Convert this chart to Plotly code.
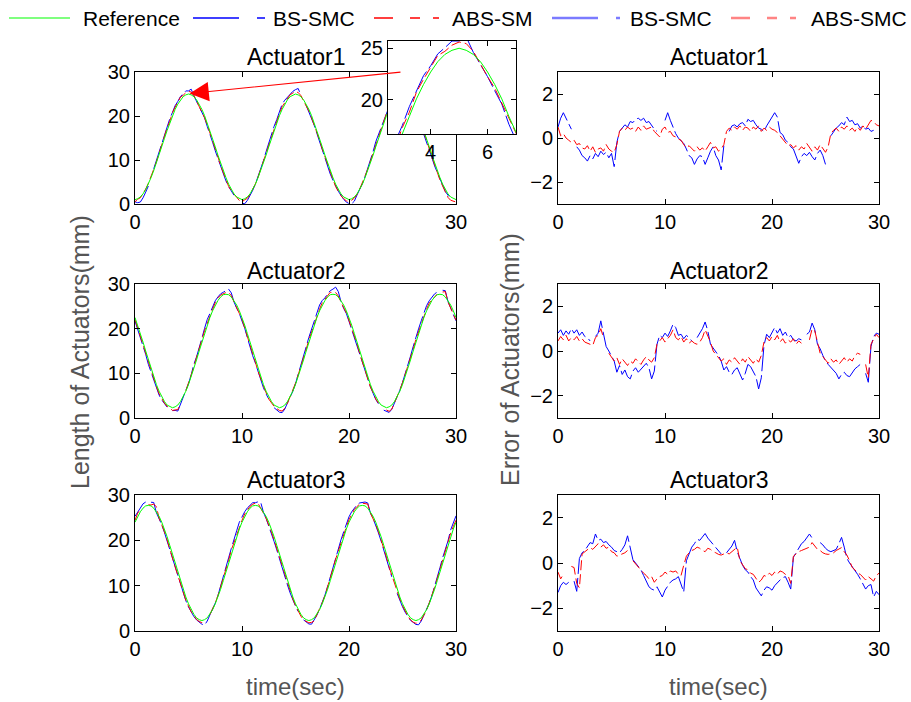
import plotly.graph_objects as go

# ---------------- data ----------------
time = [i * 0.25 for i in range(121)]  # sec

ref1 = [1.0,1.2,1.6,2.3,3.3,4.5,6.0,7.6,9.3,11.1,13.0,14.9,16.7,18.4,20.1,21.5,22.7,23.7,24.4,24.8,
        25.0,24.8,24.4,23.7,22.7,21.5,20.1,18.4,16.7,14.9,13.0,11.1,9.3,7.6,6.0,4.5,3.3,2.3,1.6,1.2,
        1.0,1.2,1.6,2.3,3.3,4.5,6.0,7.6,9.3,11.1,13.0,14.9,16.7,18.4,20.1,21.5,22.7,23.7,24.4,24.8,
        25.0,24.8,24.4,23.7,22.7,21.5,20.1,18.4,16.7,14.9,13.0,11.1,9.3,7.6,6.0,4.5,3.3,2.3,1.6,1.2,
        1.0,1.2,1.6,2.3,3.3,4.5,6.0,7.6,9.3,11.1,13.0,14.9,16.7,18.4,20.1,21.5,22.7,23.7,24.4,24.8,
        25.0,24.8,24.4,23.7,22.7,21.5,20.1,18.4,16.7,14.9,13.0,11.1,9.3,7.6,6.0,4.5,3.3,2.3,1.6,1.2,
        1.0]

ref2 = [22.5,20.8,18.9,17.0,15.0,13.0,11.1,9.2,7.5,6.0,4.7,3.7,2.9,2.5,2.3,2.5,2.9,3.7,4.7,6.0,
        7.5,9.2,11.1,13.0,15.0,17.0,18.9,20.8,22.5,24.0,25.3,26.3,27.1,27.6,27.7,27.6,27.1,26.3,25.3,24.0,
        22.5,20.8,18.9,17.0,15.0,13.0,11.1,9.2,7.5,6.0,4.7,3.7,2.9,2.5,2.3,2.5,2.9,3.7,4.7,6.0,
        7.5,9.2,11.1,13.0,15.0,17.0,18.9,20.8,22.5,24.0,25.3,26.3,27.1,27.6,27.7,27.6,27.1,26.3,25.3,24.0,
        22.5,20.8,18.9,17.0,15.0,13.0,11.1,9.2,7.5,6.0,4.7,3.7,2.9,2.5,2.3,2.5,2.9,3.7,4.7,6.0,
        7.5,9.2,11.1,13.0,15.0,17.0,18.9,20.8,22.5,24.0,25.3,26.3,27.1,27.6,27.7,27.6,27.1,26.3,25.3,24.0,
        22.5]

ref3 = [24.0,25.3,26.3,27.1,27.6,27.7,27.6,27.1,26.3,25.3,24.0,22.5,20.8,18.9,17.0,15.0,13.0,11.1,9.2,7.5,
        6.0,4.7,3.7,2.9,2.5,2.3,2.5,2.9,3.7,4.7,6.0,7.5,9.2,11.1,13.0,15.0,17.0,18.9,20.8,22.5,
        24.0,25.3,26.3,27.1,27.6,27.7,27.6,27.1,26.3,25.3,24.0,22.5,20.8,18.9,17.0,15.0,13.0,11.1,9.2,7.5,
        6.0,4.7,3.7,2.9,2.5,2.3,2.5,2.9,3.7,4.7,6.0,7.5,9.2,11.1,13.0,15.0,17.0,18.9,20.8,22.5,
        24.0,25.3,26.3,27.1,27.6,27.7,27.6,27.1,26.3,25.3,24.0,22.5,20.8,18.9,17.0,15.0,13.0,11.1,9.2,7.5,
        6.0,4.7,3.7,2.9,2.5,2.3,2.5,2.9,3.7,4.7,6.0,7.5,9.2,11.1,13.0,15.0,17.0,18.9,20.8,22.5,
        24.0]

N = None
# tracking errors (mm), BS-SMC (blue) and ABS-SMC (red)
err1_bs = [0.5,0.9,1.15,0.9, 0.6,0.4,N,-0.4, -0.55,-0.8,-0.9,-1.05, -0.8,-0.95,-0.7,-0.85,
           -0.6,-0.75,-0.65,-0.9, -0.7,-1.3,-0.2,0.3, 0.45,0.6,0.5,0.75, 0.7,0.85,0.9,0.8,
           0.9,0.7,0.75,0.55, 0.4,0.3,N,N, 0.8,1.15,0.8,0.45, 0.2,0.0,-0.15,-0.25,
           -0.5,-0.8,-0.9,-1.2, -0.95,-0.8,-0.85,-1.2, -0.9,-0.6,-0.4,-0.8, -1.0,-1.45,-0.35,N,
           0.3,0.55,0.6,0.5, 0.65,0.7,0.55,0.85, 0.75,0.8,0.6,0.45, 0.4,0.3,0.55,0.75,
           0.9,1.15,0.95,0.25, 0.15,-0.1,-0.2,-0.4, -0.5,-0.8,-1.15,-0.85, -0.7,-0.8,-0.65,-0.85,
           -1.0,-0.7,-0.55,-0.8, -1.2,N,0.1,0.3, 0.45,0.55,0.7,0.6, 0.95,0.75,0.8,0.6,
           0.65,0.45,0.55,0.4, 0.45,0.3,0.35,N, N]
err1_abs = [0.5,0.1,0.2,0.0, -0.1,-0.2,-0.1,-0.3, -0.25,-0.45,-0.5,-0.35, -0.6,-0.4,-0.65,-0.5,
            -0.45,-0.6,-0.3,-0.5, -0.6,-0.65,-0.3,0.3, 0.45,0.35,0.5,0.4, 0.45,0.3,0.5,0.35,
            0.55,0.4,0.45,0.5, 0.3,0.15,0.05,0.4, 0.5,0.25,0.3,0.1, 0.05,-0.05,-0.1,-0.3,
            -0.45,-0.35,-0.5,-0.6, -0.4,-0.55,-0.45,-0.6, -0.4,-0.2,-0.45,-0.4, -0.6,-0.5,-0.3,0.3,
            0.45,0.35,0.5,0.4, 0.55,0.35,0.5,0.45, 0.3,0.5,0.4,0.55, 0.3,0.45,0.35,0.5,
            0.4,0.35,0.25,0.1, -0.1,-0.2,-0.35,-0.3, -0.45,-0.35,-0.55,-0.4, -0.5,-0.25,-0.45,-0.6,
            -0.4,-0.55,-0.3,-0.5, -0.65,-0.4,0.2,0.35, 0.45,0.3,0.5,0.4, 0.55,0.35,0.45,0.3,
            0.5,0.35,0.55,0.4, 0.6,0.8,0.75,0.6, 0.55]
err2_bs = [0.8,0.95,0.7,0.9, 0.75,1.0,0.8,0.95, 0.7,0.85,0.65,0.6, 0.45,N,0.65,0.8,
           1.35,0.7,0.2,0.0, -0.2,-0.45,-0.95,-0.65, -1.05,-0.85,-1.15,-1.25, -0.9,-0.75,-0.95,-0.8,
           -0.7,-0.55,-0.75,-1.25, -0.9,0.3,0.7,0.6, 0.8,0.65,0.9,1.2, 1.05,0.7,0.75,0.55,
           0.7,0.6,0.45,N, 0.6,0.8,1.0,1.3, 0.9,0.3,0.15,0.0, -0.2,-0.45,-0.85,-0.7,
           -0.95,-1.05,-0.85,-0.75, -1.0,-1.3,-1.0,-0.6, -0.7,-0.9,-1.15,-1.7, -1.2,0.25,0.75,0.6,
           0.85,1.05,0.8,1.0, 0.7,0.85,0.6,0.7, 0.5,0.45,0.55,0.5, N,0.75,0.85,1.25,
           0.95,0.3,0.1,-0.2, -0.45,-0.6,-0.75,-0.85, -1.0,-1.25,-1.05,-0.95, -1.1,-1.15,-0.95,-0.8,
           -0.7,-0.6,N,-1.0, -1.4,0.2,0.65,0.8, 0.75]
err2_abs = [0.45,0.65,0.5,0.7, 0.45,0.6,0.5,0.65, 0.45,0.55,0.4,0.35, 0.3,0.25,0.6,0.7,
            1.0,0.6,N,-0.1, -0.3,-0.45,-0.3,-0.6, -0.35,-0.5,-0.65,-0.45, -0.55,-0.35,-0.5,-0.6,
            -0.4,-0.25,-0.4,-0.5, -0.3,0.3,0.45,0.6, 0.4,0.55,0.7,0.95, 0.6,0.5,0.65,0.4,
            0.55,0.35,0.45,0.35, 0.3,0.4,0.6,0.95, 0.7,0.4,0.0,-0.15, -0.3,-0.45,-0.35,-0.6,
            -0.4,-0.5,-0.3,-0.45, -0.6,-0.35,-0.5,-0.25, -0.4,-0.55,-0.35,-0.5, -0.2,0.4,0.6,0.45,
            0.65,0.5,0.7,0.4, 0.55,0.35,0.5,0.4, 0.55,0.3,0.45,0.35, N,N,0.5,1.0,
            0.9,0.4,-0.1,-0.25, -0.4,-0.55,-0.35,-0.5, -0.4,-0.6,-0.45,-0.3, -0.5,-0.35,-0.45,-0.2,
            -0.1,-0.15,N,-0.6, -1.2,0.3,0.55,0.75, 0.6]
err3_bs = [-1.3,-1.0,-0.85,-0.95, -0.85,N,-0.8,-1.25, 0.2,0.45,0.55,0.75, 0.9,0.85,1.28,1.0,
           1.05,0.9,0.95,0.8, 0.7,0.55,0.5,0.45, 0.6,0.8,1.2,0.7, 0.15,0.0,-0.15,-0.3,
           -0.55,-0.8,-1.05,-1.15, -1.2,-1.05,-1.3,-1.5, -1.2,-1.0,-0.85,-0.75, -0.7,-0.6,-0.9,-1.28,
           0.1,0.45,0.7,0.85, 1.05,1.0,1.15,1.3, 1.1,0.95,0.8,0.65, 0.5,0.4,N,0.45,
           0.6,0.75,1.0,0.5, 0.2,-0.1,-0.3,-0.4, -0.6,-0.75,-1.1,-1.25, -1.45,-1.2,-1.05,-1.1,
           -1.2,-1.0,-0.85,-0.75, -0.65,-0.6,-0.85,-1.15, 0.25,0.45,0.6,0.85, 0.95,1.1,1.28,1.1,
           1.05,N,0.9,0.8, 0.65,0.55,0.5,0.55, 0.6,0.85,1.13,0.7, 0.2,0.0,-0.15,-0.3,
           -0.5,-0.7,-0.95,-1.15, -1.0,-0.95,-1.5,-1.25, -1.4]
err3_abs = [-0.4,-0.7,-0.5,N, N,-0.15,-0.2,-0.9, -1.1,0.4,0.5,0.6, 0.68,0.6,0.75,0.85,
            0.7,0.8,0.65,0.7, 0.5,0.45,0.3,0.35, 0.4,0.45,0.55,N, 0.1,-0.05,-0.2,-0.3,
            -0.45,-0.55,-0.7,-0.6, -0.85,-0.7,-0.6,-0.55, -0.4,-0.5,-0.35,-0.4, -0.35,-0.5,-0.55,-0.1,
            0.3,0.45,0.55,0.6, 0.7,0.65,0.55,0.5, 0.65,0.6,0.5,0.45, 0.38,0.35,0.4,0.45,
            0.4,0.5,0.6,0.7, 0.1,-0.1,-0.25,-0.3, -0.45,-0.5,-0.7,-0.85, -0.75,-0.55,-0.6,-0.45,
            -0.55,-0.4,-0.5,-0.35, -0.4,-0.5,-0.55,-0.9, 0.3,0.4,0.5,0.55, 0.6,0.65,0.7,0.9,
            0.75,0.6,0.55,0.45, 0.4,0.38,0.4,0.45, 0.55,0.6,0.68,0.5, 0.35,0.1,-0.2,-0.3,
            -0.45,-0.5,-0.65,-0.75, -0.6,-0.7,-0.8,-0.55, -0.45]

refs = [ref1, ref2, ref3]
errs_bs = [err1_bs, err2_bs, err3_bs]
errs_abs = [err1_abs, err2_abs, err3_abs]
titles = ["Actuator1", "Actuator2", "Actuator3"]
legend_names = ["Reference", "BS-SMC", "ABS-SM", "BS-SMC", "ABS-SMC"]

GREEN = "#00ff00"
BLUE = "#0000ff"
RED = "#ff0000"
BLUE_DASH = "24px,4px"
RED_DASH = "10px,4px"


def track(ref, err):
    return [None if e is None else r - e for r, e in zip(ref, err)]


# ---------------- layout geometry ----------------
W, H = 911, 702
colx = [(135, 456), (558, 879)]
rowy = [(72, 204), (284, 418), (495, 631)]


def xdom(c):
    return [colx[c][0] / W, colx[c][1] / W]


def ydom(r):
    return [1 - rowy[r][1] / H, 1 - rowy[r][0] / H]


fig = go.Figure()
FONT = "Liberation Sans, Arial, Helvetica, sans-serif"

axis_common = dict(showline=True, linecolor="black", linewidth=1, mirror="ticks",
                   ticks="inside", ticklen=5, tickcolor="black", showgrid=False,
                   zeroline=False, automargin=False,
                   tickfont=dict(size=20, color="black", family=FONT))

layout_axes = {}
for r in range(3):
    for c in range(2):
        k = r * 2 + c + 1
        xa = "x" if k == 1 else f"x{k}"
        ya = "y" if k == 1 else f"y{k}"
        xname = "xaxis" if k == 1 else f"xaxis{k}"
        yname = "yaxis" if k == 1 else f"yaxis{k}"
        layout_axes[xname] = dict(domain=xdom(c), anchor=ya, range=[0, 30],
                                  tickvals=[0, 10, 20, 30], **axis_common)
        if c == 0:
            layout_axes[yname] = dict(domain=ydom(r), anchor=xa, range=[0, 30],
                                      tickvals=[0, 10, 20, 30], **axis_common)
            fig.add_trace(go.Scatter(x=time, y=track(refs[r], errs_bs[r]), xaxis=xa, yaxis=ya,
                                     mode="lines", name="BS-SMC",
                                     line=dict(color=BLUE, width=1, dash=BLUE_DASH)))
            fig.add_trace(go.Scatter(x=time, y=track(refs[r], errs_abs[r]), xaxis=xa, yaxis=ya,
                                     mode="lines", name="ABS-SMC",
                                     line=dict(color=RED, width=1, dash=RED_DASH)))
            fig.add_trace(go.Scatter(x=time, y=refs[r], xaxis=xa, yaxis=ya,
                                     mode="lines", name="Reference",
                                     line=dict(color=GREEN, width=1)))
        else:
            layout_axes[yname] = dict(domain=ydom(r), anchor=xa, range=[-3, 3],
                                      tickvals=[-2, 0, 2], **axis_common)
            fig.add_trace(go.Scatter(x=time, y=errs_bs[r], xaxis=xa, yaxis=ya, mode="lines",
                                     name="BS-SMC", line=dict(color=BLUE, width=1, dash=BLUE_DASH)))
            fig.add_trace(go.Scatter(x=time, y=errs_abs[r], xaxis=xa, yaxis=ya, mode="lines",
                                     name="ABS-SMC", line=dict(color=RED, width=1, dash=RED_DASH)))

# inset (zoom of Actuator1 first peak)
inset_x = (388, 516)
inset_y = (41, 134)
layout_axes["xaxis7"] = dict(domain=[inset_x[0] / W, inset_x[1] / W], anchor="y7",
                             range=[2.5, 7.0], tickvals=[4, 6], **axis_common)
layout_axes["yaxis7"] = dict(domain=[1 - inset_y[1] / H, 1 - inset_y[0] / H], anchor="x7",
                             range=[16.7, 25.7], tickvals=[20, 25], **axis_common)
fig.add_trace(go.Scatter(x=time, y=track(ref1, err1_bs), xaxis="x7", yaxis="y7", mode="lines",
                         name="BS-SMC", line=dict(color=BLUE, width=1, dash=BLUE_DASH)))
fig.add_trace(go.Scatter(x=time, y=track(ref1, err1_abs), xaxis="x7", yaxis="y7", mode="lines",
                         name="ABS-SMC", line=dict(color=RED, width=1, dash=RED_DASH)))
fig.add_trace(go.Scatter(x=time, y=ref1, xaxis="x7", yaxis="y7", mode="lines",
                         name="Reference", line=dict(color=GREEN, width=1)))

annotations = []
shapes = []

# legend row (drawn by hand to match spacing)
leg_y = 1 - 18 / H
leg_lines = [  # (x0, x1, color, width, dash)
    (9, 70, GREEN, 1.2, "solid"),
    (193, 266, BLUE, 1.5, "46px,18px,8px,20px"),
    (374, 441, RED, 1.5, "19px,17px,10px,13px,6px"),
    (552, 620, "rgba(90,90,255,0.8)", 2.5, "46px,18px,8px,20px"),
    (731, 798, "rgba(255,110,110,0.85)", 2.5, "19px,17px,10px,13px,6px"),
]
leg_text_x = [81, 271, 450, 628, 809]
for (x0, x1, col, lw, dsh), tx, name in zip(leg_lines, leg_text_x, legend_names):
    shapes.append(dict(type="line", xref="paper", yref="paper", x0=x0 / W, x1=x1 / W,
                       y0=leg_y, y1=leg_y, line=dict(color=col, width=lw, dash=dsh)))
    annotations.append(dict(text=name, x=tx / W, y=leg_y, xref="paper", yref="paper",
                            showarrow=False, xanchor="left", yanchor="middle",
                            font=dict(size=21, color="black", family=FONT)))

title_y = [57, 271, 480]
for r in range(3):
    for c in range(2):
        cx = (colx[c][0] + colx[c][1]) / 2 / W
        annotations.append(dict(text=titles[r], x=cx, y=1 - title_y[r] / H, xref="paper",
                                yref="paper", showarrow=False, xanchor="center", yanchor="middle",
                                font=dict(size=23, color="black", family=FONT)))
for c in range(2):
    cx = (colx[c][0] + colx[c][1]) / 2 / W
    annotations.append(dict(text="time(sec)", x=cx, y=1 - 686 / H, xref="paper", yref="paper",
                            showarrow=False, xanchor="center", yanchor="middle",
                            font=dict(size=24, color="#555555", family=FONT)))
annotations.append(dict(text="Length of Actuators(mm)", x=80 / W, y=1 - 352 / H, xref="paper",
                        yref="paper", showarrow=False, textangle=-90, xanchor="center",
                        yanchor="middle", font=dict(size=25, color="#555555", family=FONT)))
annotations.append(dict(text="Error of Actuators(mm)", x=510 / W, y=1 - 360 / H, xref="paper",
                        yref="paper", showarrow=False, textangle=-90, xanchor="center",
                        yanchor="middle", font=dict(size=25, color="#555555", family=FONT)))
# arrow from inset to zoomed region
annotations.append(dict(text="", x=5.1, y=25.1, xref="x", yref="y", ax=24.95, ay=30,
                        axref="x", ayref="y", showarrow=True, arrowhead=2, arrowsize=3.5,
                        arrowwidth=1.1, arrowcolor=RED))

fig.update_layout(
    width=W, height=H,
    margin=dict(l=0, r=0, t=0, b=0, autoexpand=False),
    paper_bgcolor="white", plot_bgcolor="white",
    font=dict(family=FONT, color="black"),
    showlegend=False,
    annotations=annotations,
    shapes=shapes,
    **layout_axes,
)

fig.write_html("out.html", config={"displayModeBar": False},
               post_script="document.body.style.margin='0px';")
